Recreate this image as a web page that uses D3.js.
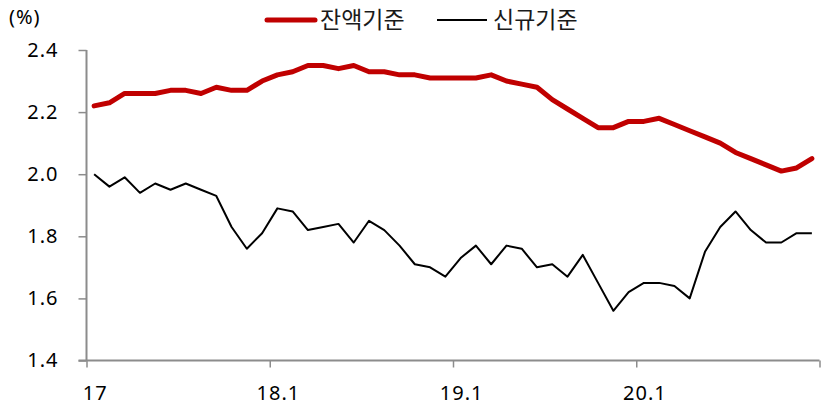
<!DOCTYPE html>
<html>
<head>
<meta charset="utf-8">
<script src="https://cdn.jsdelivr.net/npm/d3@7"></script>
<style>
  body { margin: 0; background: #fff; }
  svg { display: block; }
</style>
</head>
<body>
<script>
// months 2017.1 ~ 2020.12
var months = [];
for (var yr = 17; yr <= 20; yr++) {
    for (var m = 1; m <= 12; m++) months.push(yr + "." + m);
}

var tickLabels = ["17", "18.1", "19.1", "20.1"];
var tickMonths = ["17.1", "18.1", "19.1", "20.1"];

var seriesNames = ["잔액기준", "신규기준"];

// 잔액기준 (balance basis)
var balance = [2.22, 2.23, 2.26, 2.26, 2.26, 2.27, 2.27, 2.26, 2.28, 2.27, 2.27, 2.30,
               2.32, 2.33, 2.35, 2.35, 2.34, 2.35, 2.33, 2.33, 2.32, 2.32, 2.31, 2.31,
               2.31, 2.31, 2.32, 2.30, 2.29, 2.28, 2.24, 2.21, 2.18, 2.15, 2.15, 2.17,
               2.17, 2.18, 2.16, 2.14, 2.12, 2.10, 2.07, 2.05, 2.03, 2.01, 2.02, 2.05];

// 신규기준 (new loans basis)
var newLoans = [2.00, 1.96, 1.99, 1.94, 1.97, 1.95, 1.97, 1.95, 1.93, 1.83, 1.76, 1.81,
                1.89, 1.88, 1.82, 1.83, 1.84, 1.78, 1.85, 1.82, 1.77, 1.71, 1.70, 1.67,
                1.73, 1.77, 1.71, 1.77, 1.76, 1.70, 1.71, 1.67, 1.74, 1.65, 1.56, 1.62,
                1.65, 1.65, 1.64, 1.60, 1.75, 1.83, 1.88, 1.82, 1.78, 1.78, 1.81, 1.81];

var yTicks = [1.4, 1.6, 1.8, 2.0, 2.2, 2.4];

var W = 823, H = 407;
var plotLeft = 86.5, plotRight = 819.5, plotTop = 50, plotBottom = 360.5;

var axisColor = "#8c8c8c",
    numFont = "'Noto Sans', sans-serif",
    krFont = "'Noto Sans CJK KR', sans-serif",
    numSize = "20px",
    numSpacing = "1px";

var svg = d3.select("body")
    .append("svg")
    .attr("width", W)
    .attr("height", H);

var x = d3.scaleBand()
    .domain(months)
    .range([plotLeft, plotRight])
    .paddingInner(0)
    .paddingOuter(0);

// linear index scale for the boundary tick marks
var xIdx = d3.scaleLinear()
    .domain([0, months.length])
    .range([plotLeft, plotRight]);

var y = d3.scaleLinear()
    .domain([1.4, 2.4])
    .range([plotBottom, plotTop]);

function cx(i) { return x(months[i]) + x.bandwidth() / 2; }

// y axis
var yAxis = svg.append("g")
    .attr("transform", "translate(" + plotLeft + ",0)")
    .call(d3.axisLeft(y).tickValues(yTicks).tickSize(8).tickPadding(20)
        .tickFormat(d3.format(".1f")));
yAxis.select(".domain").attr("stroke", axisColor).attr("stroke-width", 2)
    .attr("d", "M0," + y(2.4) + "V" + plotBottom);
yAxis.selectAll(".tick line").attr("stroke", axisColor).attr("stroke-width", 1.5);
yAxis.selectAll("text")
    .attr("font-family", numFont)
    .attr("font-size", numSize)
    .attr("letter-spacing", numSpacing)
    .attr("fill", "#000");

// x axis tick marks (category boundaries every 12 months)
var xTickAxis = svg.append("g")
    .attr("transform", "translate(0," + plotBottom + ")")
    .call(d3.axisBottom(xIdx).tickValues([0, 12, 24, 36, 48]).tickSize(7).tickFormat(""));
xTickAxis.select(".domain").attr("stroke", axisColor).attr("stroke-width", 2)
    .attr("d", "M" + (plotLeft - 8) + ",0H" + plotRight);
xTickAxis.selectAll(".tick line").attr("stroke", axisColor).attr("stroke-width", 1.5);

// x axis labels at first month of each year
var xLabelAxis = svg.append("g")
    .attr("transform", "translate(0," + plotBottom + ")")
    .call(d3.axisBottom(x).tickValues(tickMonths).tickSize(0).tickPadding(25)
        .tickFormat(function(d, i) { return tickLabels[i]; }));
xLabelAxis.select(".domain").remove();
xLabelAxis.selectAll("text")
    .attr("font-family", numFont)
    .attr("font-size", numSize)
    .attr("letter-spacing", numSpacing)
    .attr("dx", "1")
    .attr("fill", "#000");

// unit label
svg.append("text")
    .attr("x", 9)
    .attr("y", 24)
    .attr("font-family", numFont)
    .attr("font-size", numSize)
    .attr("letter-spacing", numSpacing)
    .text("(%)");

// lines
var line = d3.line()
    .x(function(d, i) { return cx(i); })
    .y(function(d) { return y(d); });

svg.append("path")
    .datum(newLoans)
    .attr("fill", "none")
    .attr("stroke", "#000")
    .attr("stroke-width", 2)
    .attr("stroke-linejoin", "round")
    .attr("d", line);

svg.append("path")
    .datum(balance)
    .attr("fill", "none")
    .attr("stroke", "#c00000")
    .attr("stroke-width", 5)
    .attr("stroke-linejoin", "round")
    .attr("stroke-linecap", "round")
    .attr("d", line);

// legend
var legend = [
    { name: seriesNames[0], color: "#c00000", width: 5, x0: 267, x1: 315, tx: 320 },
    { name: seriesNames[1], color: "#000", width: 2, x0: 437, x1: 487, tx: 493 }
];

legend.forEach(function(l) {
    svg.append("line")
        .attr("x1", l.x0).attr("x2", l.x1)
        .attr("y1", 20).attr("y2", 20)
        .attr("stroke", l.color)
        .attr("stroke-width", l.width)
        .attr("stroke-linecap", l.width > 3 ? "round" : "butt");
    svg.append("text")
        .attr("x", l.tx)
        .attr("y", 28)
        .attr("font-family", krFont)
        .attr("font-size", "23px")
        .attr("fill", "#1a1a1a")
        .text(l.name);
});
</script>
</body>
</html>
